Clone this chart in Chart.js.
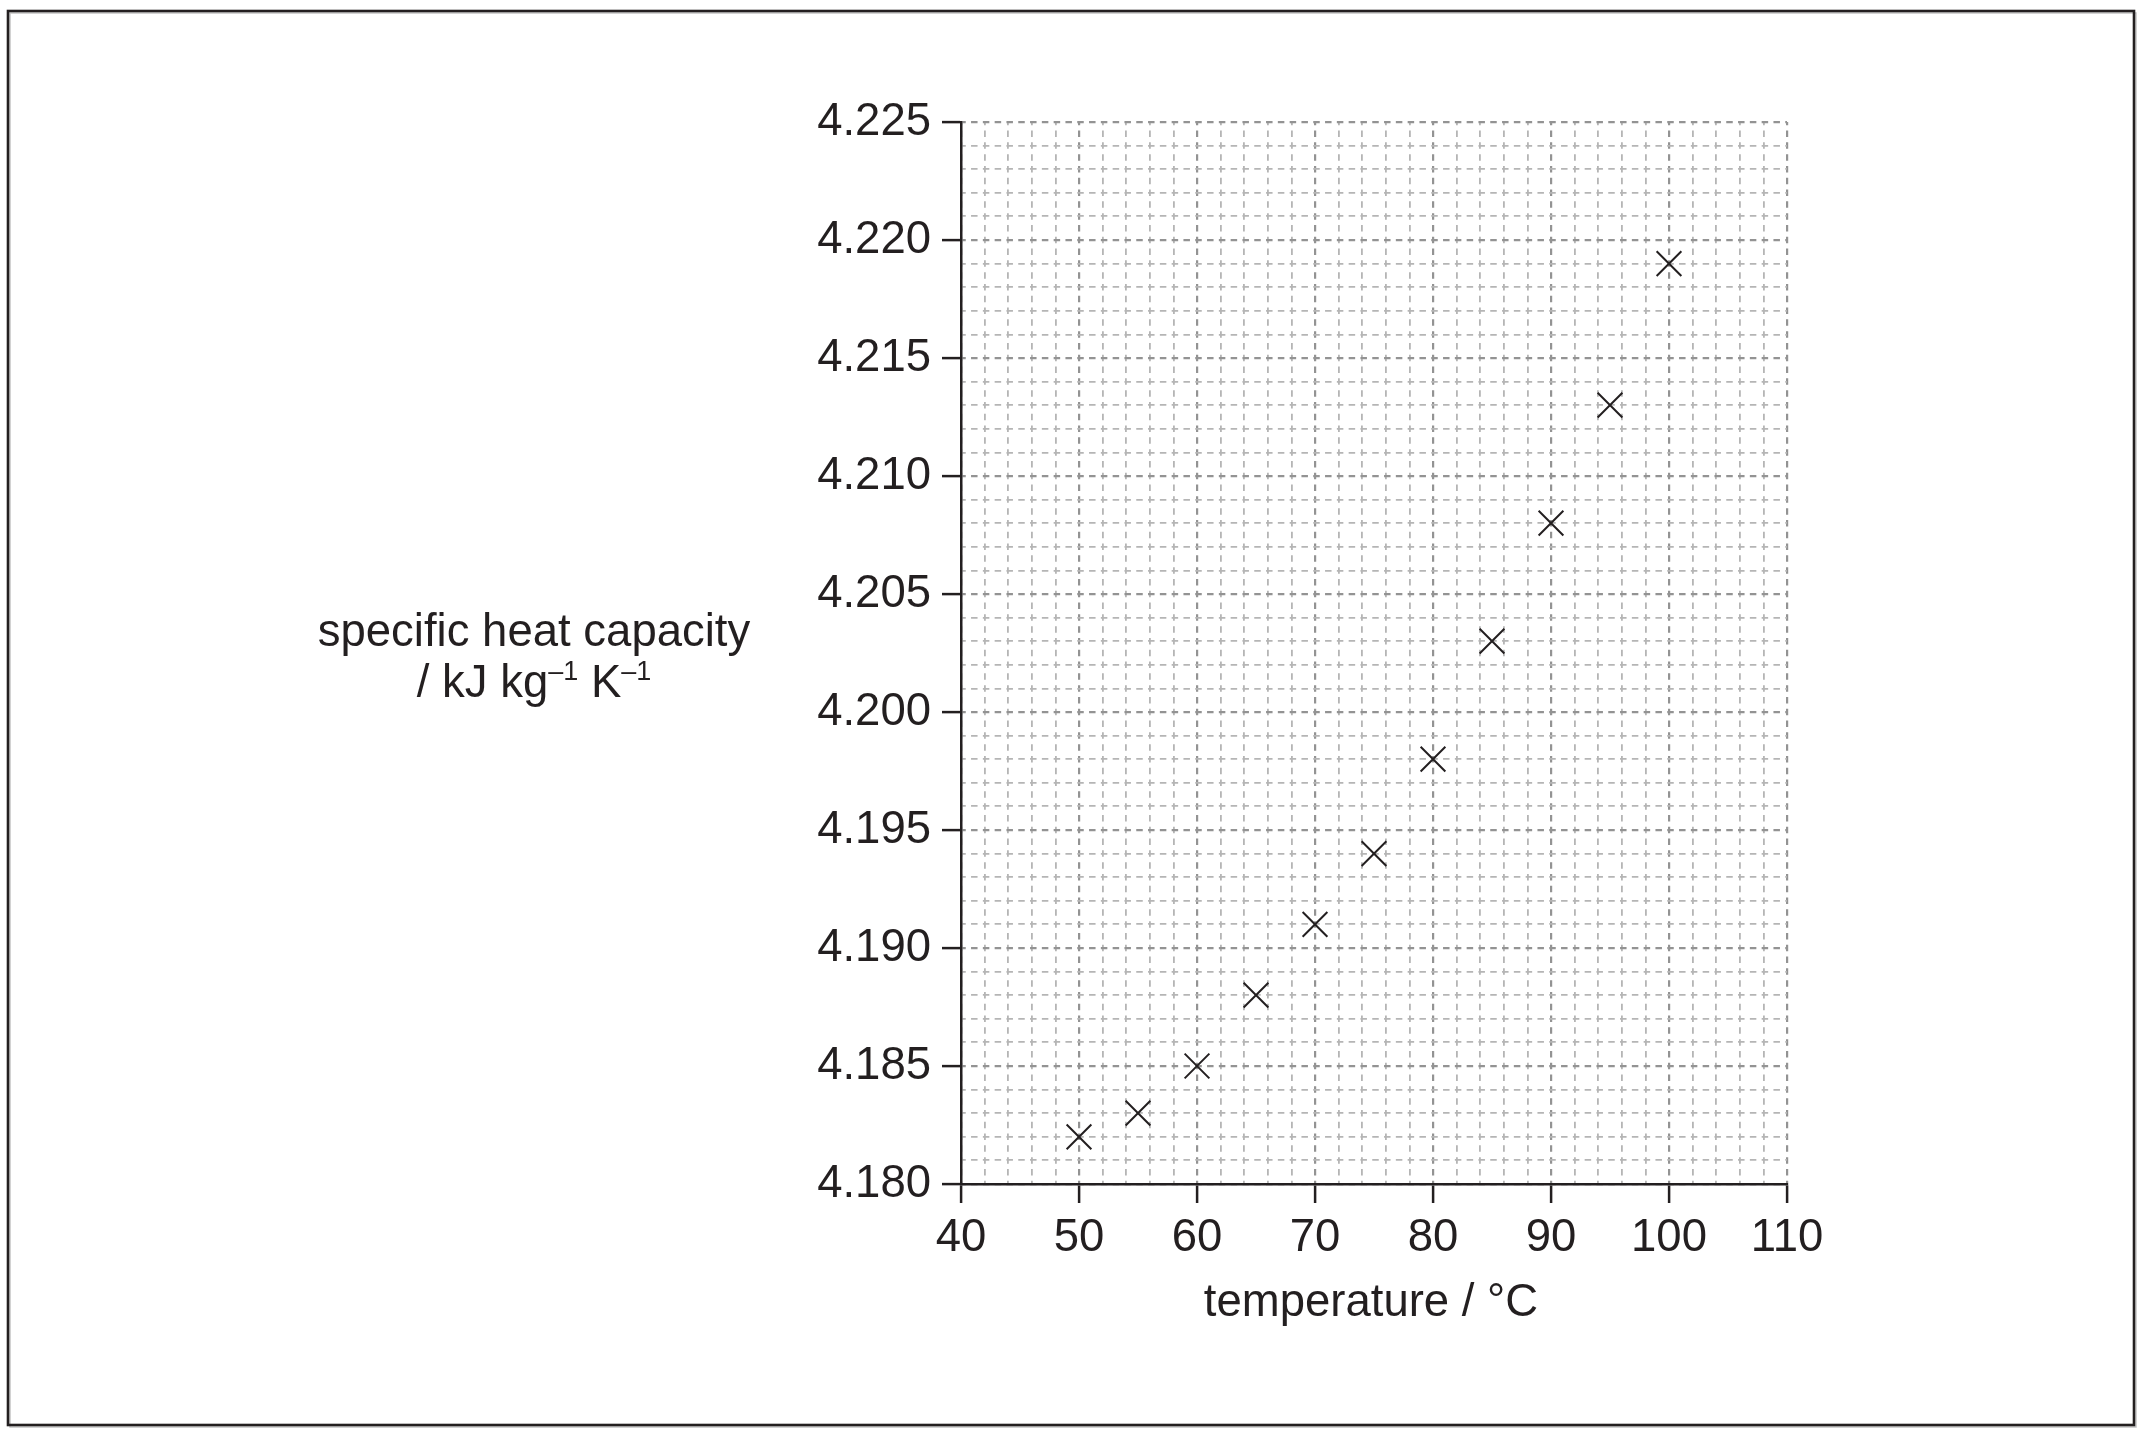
<!DOCTYPE html>
<html>
<head>
<meta charset="utf-8">
<title>specific heat capacity against temperature</title>
<script src="https://cdn.jsdelivr.net/npm/chart.js@4.4.1/dist/chart.umd.min.js"></script>
<style>
    html, body { margin: 0; padding: 0; background: #fff; }
    canvas { display: block; }
</style>
</head>
<body>
<canvas id="heat-chart" width="2144" height="1435"></canvas>
<script>

// values
const temperatures = [50, 55, 60, 65, 70, 75, 80, 85, 90, 95, 100];
const heatCapacities = [4.182, 4.183, 4.185, 4.188, 4.191, 4.194, 4.198, 4.203, 4.208, 4.213, 4.219];

const xTickLabels = ['40', '50', '60', '70', '80', '90', '100', '110'];
const yTickLabels = ['4.180', '4.185', '4.190', '4.195', '4.200', '4.205', '4.210', '4.215', '4.220', '4.225'];

// small squares of the graph paper
const X_MINOR_STEP = 2;
const Y_MINOR_STEP = 0.001;

const INK = '#231f20';
const GRID_MAJOR = '#939393';
const GRID_MINOR = '#b5b5b5';
const FONT = "'Liberation Sans', Arial, Helvetica, sans-serif";


function isMajorX(v) {
    return xTickLabels.includes(String(v));
}

function isMajorY(v) {
    return yTickLabels.includes(Number(v).toFixed(3));
}


// frame round the page + the two axis titles
const paperPlugin = {
    id: 'paper',
    beforeDraw(chart) {
        const ctx = chart.ctx;
        ctx.save();
        ctx.fillStyle = '#fff';
        ctx.fillRect(0, 0, chart.width, chart.height);
        ctx.strokeStyle = '#c4c4c4';
        ctx.lineWidth = 1.5;
        ctx.strokeRect(10, 13, 2126, 1414);
        ctx.strokeStyle = INK;
        ctx.lineWidth = 2.6;
        ctx.strokeRect(8, 11, 2126, 1414);
        ctx.restore();
    },
    afterDraw(chart) {
        const ctx = chart.ctx;
        const area = chart.chartArea;
        ctx.save();
        ctx.fillStyle = INK;
        ctx.textBaseline = 'alphabetic';

        // x title
        ctx.font = '45.5px ' + FONT;
        ctx.textAlign = 'center';
        ctx.fillText('temperature / °C', area.left + 410, area.bottom + 132);

        // y title, horizontal, two lines
        const cx = 534;
        ctx.fillText('specific heat capacity', cx, 646);

        const parts = [
            { text: '/ kJ kg', sup: false },
            { text: '–1', sup: true },
            { text: ' K', sup: false },
            { text: '–1', sup: true }
        ];
        let total = 0;
        parts.forEach(p => {
            ctx.font = (p.sup ? '27px ' : '45.5px ') + FONT;
            p.w = ctx.measureText(p.text).width;
            total += p.w;
        });
        let x = cx - total / 2;
        ctx.textAlign = 'left';
        parts.forEach(p => {
            ctx.font = (p.sup ? '27px ' : '45.5px ') + FONT;
            ctx.fillText(p.text, x, p.sup ? 680 : 697);
            x += p.w;
        });
        ctx.restore();
    }
};


function gridOptions(isMajor) {
    return {
        color: c => (c.tick && isMajor(c.tick.value)) ? GRID_MAJOR : GRID_MINOR,
        lineWidth: c => (c.tick && isMajor(c.tick.value)) ? 2.2 : 1.8,
        drawTicks: true,
        tickLength: 19,
        tickWidth: 2.5,
        tickColor: c => (c.tick && isMajor(c.tick.value)) ? INK : 'rgba(0,0,0,0)'
    };
}

const borderOptions = {
    display: true,
    color: INK,
    width: 2.5,
    dash: [6.5, 5.3],
    dashOffset: 3.25
};


new Chart(document.getElementById('heat-chart'), {
    type: 'scatter',
    data: {
        datasets: [{
            label: 'specific heat capacity',
            data: temperatures.map((t, i) => ({ x: t, y: heatCapacities[i] })),
            showLine: false,
            pointStyle: 'crossRot',
            pointRadius: 17.5,
            pointHoverRadius: 17.5,
            pointBorderWidth: 2,
            pointHoverBorderWidth: 2,
            borderColor: INK,
            backgroundColor: 'rgba(0,0,0,0)'
        }]
    },
    options: {
        responsive: false,
        animation: false,
        events: [],
        layout: { padding: { left: 761, right: 357, top: 122, bottom: 101 } },
        plugins: {
            legend: { display: false },
            tooltip: { enabled: false },
            title: { display: false }
        },
        scales: {
            x: {
                type: 'linear',
                position: 'bottom',
                min: Number(xTickLabels[0]),
                max: Number(xTickLabels[xTickLabels.length - 1]),
                afterFit(scale) { scale.height = 150; },
                ticks: {
                    stepSize: X_MINOR_STEP,
                    autoSkip: false,
                    maxRotation: 0,
                    minRotation: 0,
                    padding: 8,
                    color: INK,
                    font: { family: FONT, size: 45.5 },
                    callback: v => isMajorX(v) ? String(v) : ''
                },
                grid: gridOptions(isMajorX),
                border: borderOptions
            },
            y: {
                type: 'linear',
                position: 'left',
                min: Number(yTickLabels[0]),
                max: Number(yTickLabels[yTickLabels.length - 1]),
                afterFit(scale) { scale.width = 200; },
                ticks: {
                    stepSize: Y_MINOR_STEP,
                    autoSkip: false,
                    padding: 11,
                    color: INK,
                    font: { family: FONT, size: 45.5 },
                    callback: v => isMajorY(v) ? Number(v).toFixed(3) : ''
                },
                grid: gridOptions(isMajorY),
                border: borderOptions
            }
        }
    },
    plugins: [paperPlugin]
});

</script>
</body>
</html>
